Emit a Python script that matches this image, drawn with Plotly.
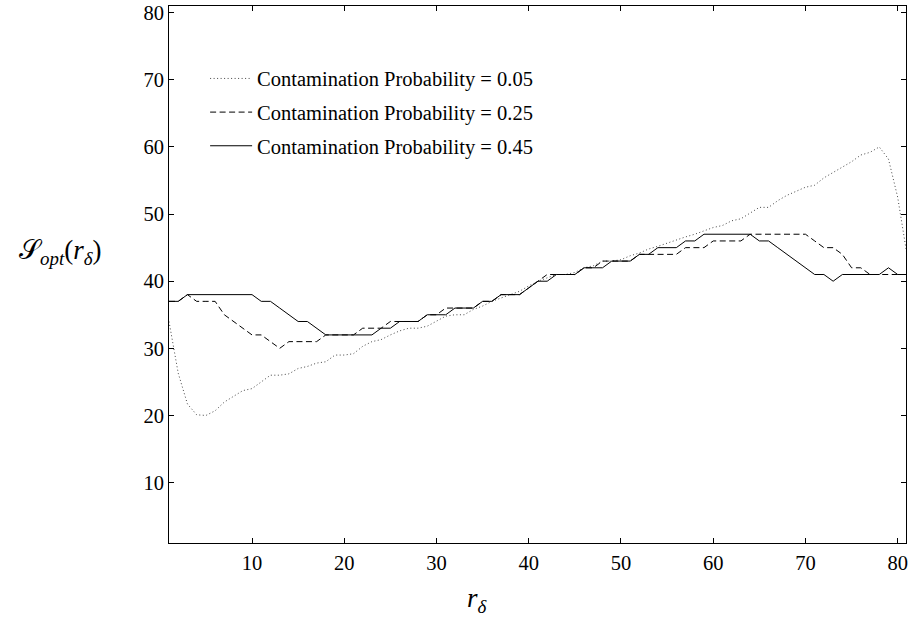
import plotly.graph_objects as go

# r_delta grid
r_delta = list(range(1, 82))

# optimal S for each contamination probability
s_opt_p05 = [34, 26.3, 21.7, 20.1, 20, 20.7, 22, 22.8, 23.7, 24,
             25, 26, 26, 26.2, 27, 27.3, 27.8, 28, 29, 29,
             29.2, 30.3, 31, 31.3, 32, 32.6, 33, 33, 33.3, 34,
             34.8, 35, 35, 35.8, 36.3, 37, 37.5, 38, 38.5, 39.3,
             40, 40.5, 41, 41, 41.3, 42, 42.3, 43, 43, 43.2,
             43.8, 44.2, 44.8, 45.2, 45.7, 46.2, 46.6, 47, 47.5, 48,
             48.3, 49, 49.3, 50.2, 51, 51, 52, 52.8, 53.4, 54,
             54.3, 55.4, 56.2, 57, 57.8, 58.8, 59.2, 60, 58.2, 52.5,
             44]

s_opt_p25 = [37, 37, 38, 37, 37, 37, 35, 34, 33, 32,
             32, 31, 30, 31, 31, 31, 31, 32, 32, 32,
             32, 33, 33, 33, 34, 34, 34, 34, 35, 35,
             36, 36, 36, 36, 37, 37, 38, 38, 38, 39,
             40, 41, 41, 41, 41, 42, 42, 43, 43, 43,
             43, 44, 44, 44, 44, 44, 45, 45, 45, 46,
             46, 46, 46, 47, 47, 47, 47, 47, 47, 47,
             46, 45, 45, 44, 42, 42, 41, 41, 41, 41,
             41]

s_opt_p45 = [37, 37, 38, 38, 38, 38, 38, 38, 38, 38,
             37, 37, 36, 35, 34, 34, 33, 32, 32, 32,
             32, 32, 32, 33, 33, 34, 34, 34, 35, 35,
             35, 36, 36, 36, 37, 37, 38, 38, 38, 39,
             40, 40, 41, 41, 41, 42, 42, 42, 43, 43,
             43, 44, 44, 45, 45, 45, 46, 46, 47, 47,
             47, 47, 47, 47, 46, 46, 45, 44, 43, 42,
             41, 41, 40, 41, 41, 41, 41, 41, 42, 41,
             41]

series_names = ["Contamination Probability = 0.05",
                "Contamination Probability = 0.25",
                "Contamination Probability = 0.45"]

x_ticks = [10, 20, 30, 40, 50, 60, 70, 80]
y_ticks = [10, 20, 30, 40, 50, 60, 70, 80]

SERIF = "Liberation Serif"

fig = go.Figure()
styles = [
    dict(color="#444444", width=1, dash="1px,2.5px"),
    dict(color="black", width=1, dash="6px,3.5px"),
    dict(color="black", width=1, dash="solid"),
]
for name, ys, ln, grp in zip(series_names, [s_opt_p05, s_opt_p25, s_opt_p45], styles, ["a", "b", "c"]):
    fig.add_trace(go.Scatter(x=r_delta, y=ys, mode="lines", name=name,
                             line=ln, legendgroup=grp))

axis_common = dict(
    showgrid=False, zeroline=False, showline=True, linecolor="black", linewidth=1,
    mirror="allticks", ticks="inside", ticklen=5, tickcolor="black", tickwidth=1,
    tickfont=dict(family=SERIF, size=20.5, color="black"),
    ticklabeloverflow="allow",
)

fig.update_layout(
    width=908, height=643,
    margin=dict(l=169, r=0, t=6, b=100),
    paper_bgcolor="white", plot_bgcolor="white",
    font=dict(family=SERIF, color="black"),
    showlegend=True,
    legend=dict(x=0.049, y=0.902, xanchor="left", yanchor="top",
                bgcolor="rgba(0,0,0,0)", borderwidth=0,
                font=dict(family=SERIF, size=20.5, color="black"),
                itemwidth=42, tracegroupgap=4, traceorder="grouped"),
    xaxis=dict(range=[1, 80.9], tickvals=x_ticks, ticklabelstandoff=1, **axis_common),
    yaxis=dict(range=[1, 81], tickvals=y_ticks, ticklabelstandoff=0, **axis_common),
    annotations=[
        dict(text="𝒮<sub><i>opt</i></sub>(<i>r</i><sub><i>δ</i></sub>)",
             xref="paper", yref="paper", x=(60 - 169) / 739, y=(543 - 252) / 537,
             xanchor="center", yanchor="middle", showarrow=False,
             font=dict(family=SERIF, size=27, color="black")),
        dict(text="<i>r</i><sub><i>δ</i></sub>",
             xref="paper", yref="paper", x=(478 - 169) / 739, y=(543 - 600) / 537,
             xanchor="center", yanchor="middle", showarrow=False,
             font=dict(family=SERIF, size=27, color="black")),
    ],
)

fig.write_html("out.html")
